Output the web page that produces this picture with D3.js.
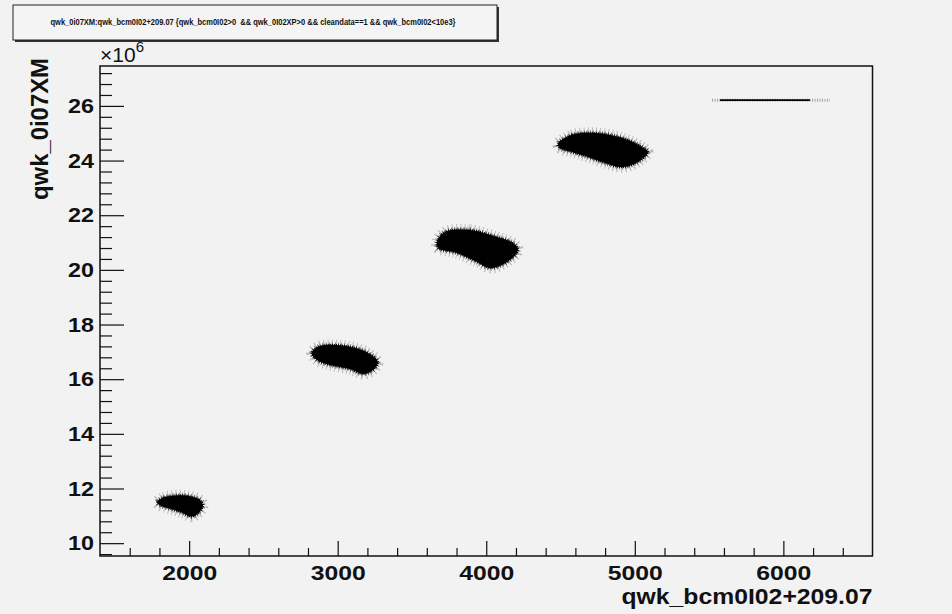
<!DOCTYPE html>
<html>
<head>
<meta charset="utf-8">
<title>qwk_0i07XM vs qwk_bcm0I02</title>
<script src="https://cdn.jsdelivr.net/npm/d3@7"></script>
<style>
    body { margin: 0; background: #f2f2f2; }
    text { font-family: "Liberation Sans", Arial, sans-serif; fill: #111; }
    .tick text { font-weight: bold; font-size: 21px; }
</style>
</head>
<body>
<script>

// ---- data (x: bcm units, y: units of 1e6) ----
var xTicks = [2000, 3000, 4000, 5000, 6000];
var yTicks = [10, 12, 14, 16, 18, 20, 22, 24, 26];

// outlines of the dense point clouds
var blob1 = [[1784,11.51],[1830,11.67],[1960,11.75],[2073,11.58],[2093,11.38],[2063,11.10],[2015,10.97],[1950,11.12],[1880,11.25],[1800,11.40]];
var blob2 = [[2825,16.96],[2881,17.21],[3083,17.19],[3204,16.96],[3271,16.63],[3238,16.34],[3170,16.19],[3083,16.37],[2948,16.52],[2861,16.70]];
var blob3 = [[3722,21.39],[3891,21.46],[4072,21.20],[4180,20.98],[4214,20.73],[4140,20.29],[4025,20.07],[3938,20.29],[3803,20.62],[3675,20.80],[3668,21.02]];
var blob4 = [[4483,24.61],[4577,24.94],[4732,25.01],[4914,24.83],[5048,24.50],[5089,24.31],[5021,23.95],[4914,23.76],[4799,23.91],[4685,24.13],[4577,24.31],[4496,24.46]];
// the last setting is a thin horizontal streak
var streakX = [5573, 6179];
var streakFaintX = [5520, 6314];
var streakY = 26.21;

var title = "qwk_0i07XM:qwk_bcm0I02+209.07 {qwk_bcm0I02>0  && qwk_0I02XP>0 && cleandata==1 && qwk_bcm0I02<10e3}";

var width = 952, height = 614;
var margin = {top: 66, right: 79.5, bottom: 58, left: 100};

var svg = d3.select("body").append("svg")
    .attr("width", width)
    .attr("height", height);

svg.append("rect").attr("width", width).attr("height", height).attr("fill", "#f2f2f2");

var x = d3.scaleLinear().domain([1400, 6600]).range([margin.left, width - margin.right]);
var y = d3.scaleLinear().domain([9.53, 27.46]).range([height - margin.bottom, margin.top]);

// title box
svg.append("rect").attr("x", 15).attr("y", 7).attr("width", 484).attr("height", 35).attr("fill", "#333");
svg.append("rect")
    .attr("x", 13).attr("y", 5).attr("width", 484).attr("height", 35)
    .attr("fill", "#f4f4f4").attr("stroke", "#222").attr("stroke-width", 1);
svg.append("text")
    .attr("x", 253).attr("y", 25)
    .attr("text-anchor", "middle")
    .attr("font-size", "9px")
    .attr("font-weight", "bold")
    .attr("textLength", 405)
    .attr("lengthAdjust", "spacingAndGlyphs")
    .style("white-space", "pre")
    .text(title);

// point clouds
var line = d3.line()
    .x(function(d) { return x(d[0]); })
    .y(function(d) { return y(d[1]); })
    .curve(d3.curveCatmullRomClosed);

var blobs = [blob1, blob2, blob3, blob4];

svg.selectAll("path.halo")
    .data(blobs).enter()
    .append("path")
    .attr("class", "halo")
    .attr("d", line)
    .attr("fill", "none")
    .attr("stroke", "#555")
    .attr("stroke-width", 11)
    .attr("stroke-dasharray", "1 3")
    .attr("opacity", 0.35);

svg.selectAll("path.halo2")
    .data(blobs).enter()
    .append("path")
    .attr("class", "halo2")
    .attr("d", line)
    .attr("fill", "none")
    .attr("stroke", "#222")
    .attr("stroke-width", 5)
    .attr("stroke-dasharray", "1 2")
    .attr("opacity", 0.6);

svg.selectAll("path.blob")
    .data(blobs).enter()
    .append("path")
    .attr("class", "blob")
    .attr("d", line)
    .attr("fill", "#000")
    .attr("stroke", "#000")
    .attr("stroke-width", 2)
    .attr("stroke-dasharray", "1 1");

svg.append("line")
    .attr("x1", x(streakFaintX[0])).attr("x2", x(streakFaintX[1]))
    .attr("y1", y(streakY)).attr("y2", y(streakY))
    .attr("stroke", "#555").attr("stroke-width", 3)
    .attr("stroke-dasharray", "1 1.5").attr("opacity", 0.5);
svg.append("line")
    .attr("x1", x(streakX[0])).attr("x2", x(streakX[1]))
    .attr("y1", y(streakY)).attr("y2", y(streakY))
    .attr("stroke", "#000").attr("stroke-width", 1.6);

// axes, ticks pointing inward as in ROOT
var xMinor = d3.range(1600, 6600, 200).filter(function(v) { return v % 1000 !== 0; });
var yMinor = d3.range(9.6, 27.4, 0.4).filter(function(v) { return Math.abs(v / 2 - Math.round(v / 2)) > 0.01; });

svg.append("g")
    .attr("transform", "translate(0," + (height - margin.bottom) + ")")
    .call(d3.axisBottom(x).tickValues(xMinor).tickSize(-8).tickFormat(""))
    .call(function(g) { g.select(".domain").remove(); });

svg.append("g")
    .attr("transform", "translate(0," + (height - margin.bottom) + ")")
    .call(d3.axisBottom(x).tickValues(xTicks).tickSize(-15).tickPadding(9).tickFormat(d3.format("d")))
    .call(function(g) { g.select(".domain").remove(); })
    .selectAll("text")
    .attr("textLength", 55)
    .attr("lengthAdjust", "spacingAndGlyphs");

svg.append("g")
    .attr("transform", "translate(" + margin.left + ",0)")
    .call(d3.axisLeft(y).tickValues(yMinor).tickSize(-12).tickFormat(""))
    .call(function(g) { g.select(".domain").remove(); });

svg.append("g")
    .attr("transform", "translate(" + margin.left + ",0)")
    .call(d3.axisLeft(y).tickValues(yTicks).tickSize(-24).tickPadding(6).tickFormat(d3.format("d")))
    .call(function(g) { g.select(".domain").remove(); })
    .selectAll("text")
    .attr("textLength", 26)
    .attr("lengthAdjust", "spacingAndGlyphs");

svg.selectAll(".tick line").attr("stroke", "#111").attr("stroke-width", 1.2);

// frame
svg.append("rect")
    .attr("x", margin.left).attr("y", margin.top)
    .attr("width", width - margin.left - margin.right)
    .attr("height", height - margin.top - margin.bottom)
    .attr("fill", "none").attr("stroke", "#111").attr("stroke-width", 1.5);

// exponent label
var expo = svg.append("text")
    .attr("x", margin.left).attr("y", 62)
    .attr("font-size", "21px");
expo.append("tspan").text("\u00d710");
expo.append("tspan").attr("dy", -10).attr("font-size", "15px").text("6");

// axis titles
svg.append("text")
    .attr("x", width - margin.right).attr("y", 604)
    .attr("text-anchor", "end")
    .attr("font-size", "22px")
    .attr("font-weight", "bold")
    .attr("textLength", 251)
    .attr("lengthAdjust", "spacingAndGlyphs")
    .text("qwk_bcm0I02+209.07");

svg.append("text")
    .attr("transform", "translate(48,58) rotate(-90)")
    .attr("text-anchor", "end")
    .attr("font-size", "23px")
    .attr("font-weight", "bold")
    .attr("textLength", 142)
    .attr("lengthAdjust", "spacingAndGlyphs")
    .text("qwk_0i07XM");

</script>
</body>
</html>
